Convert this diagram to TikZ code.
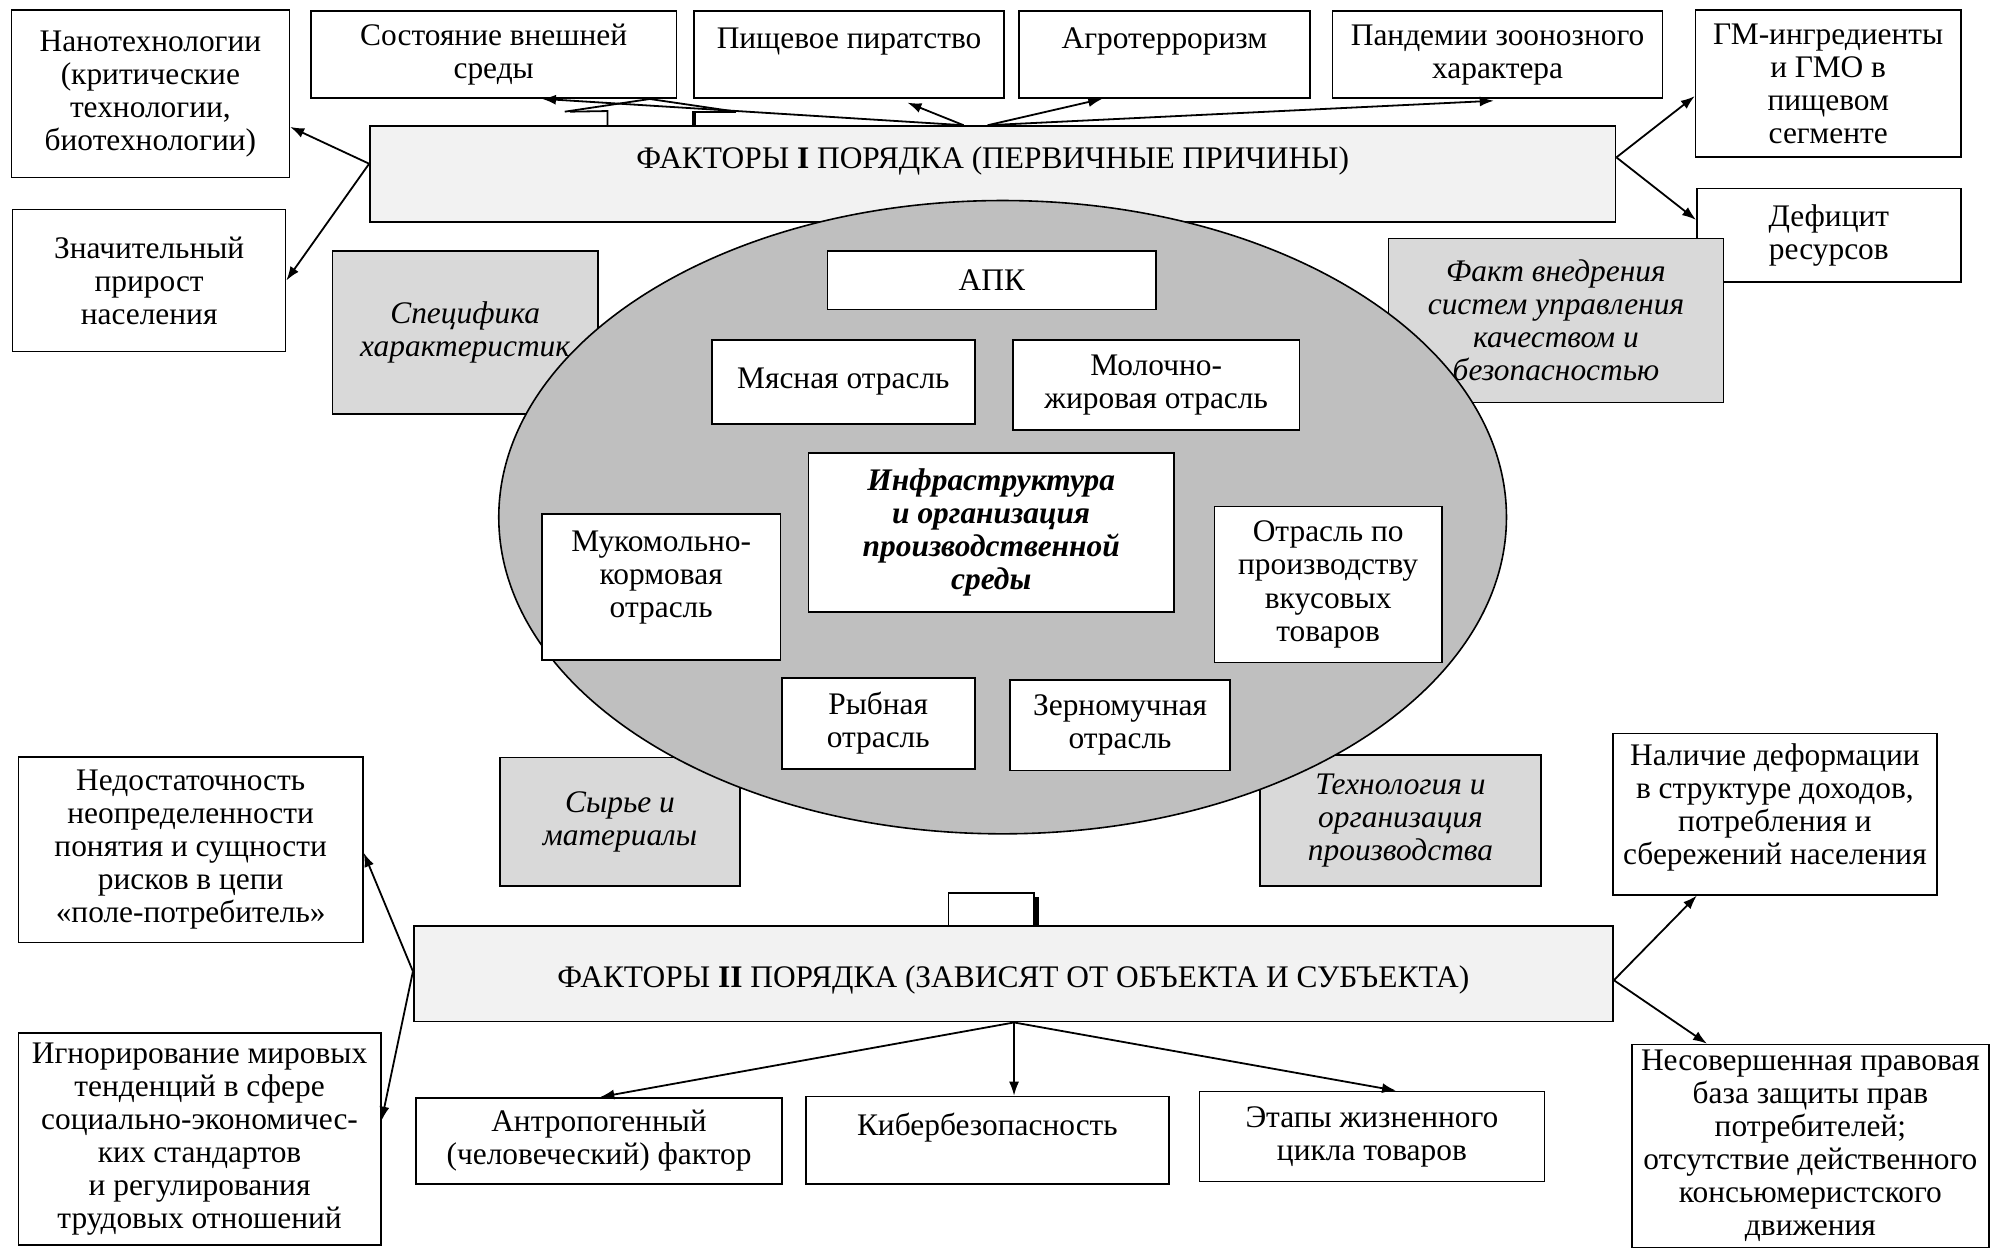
\documentclass[tikz,border=0pt]{standalone}
\usepackage{fontspec}
\setmainfont{Liberation Serif}
\usetikzlibrary{arrows.meta,shapes.geometric,calc}
\definecolor{boxgrey}{HTML}{D9D9D9}
\definecolor{factorgrey}{HTML}{F2F2F2}
\definecolor{ovalgrey}{HTML}{BFBFBF}

\begin{document}
\begin{tikzpicture}[x=0.6345pt,y=-0.6345pt,>={Latex[length=7pt,width=5pt]},
                    font=\fontsize{15.7}{16.5}\selectfont]
  \tikzset{sz/.style 2 args={minimum width=#1*0.6345pt,minimum height=#2*0.6345pt}}
  \tikzstyle{box}=[draw=black,fill=white,align=center,inner sep=1pt,line width=0.8pt]
  \tikzstyle{greybox}=[box,fill=boxgrey,font=\fontsize{15.7}{16.5}\selectfont\itshape]
  \tikzstyle{factor}=[box,fill=factorgrey]
  \tikzstyle{arr}=[->,line width=0.9pt]

  \useasboundingbox (0,0) rectangle (1568,983);

  \node[box,sz={208}{73.5}] (deficit) at (1441,185.25) {Дефицит\\ресурсов};

  \node[greybox,sz={209}{128}] (spec)  at (366.5,262)    {Специфика\\характеристик};
  \node[greybox,sz={264}{129}] (fakt)  at (1226,252.5)   {Факт внедрения\\систем управления\\качеством и\\безопасностью};
  \node[greybox,sz={189}{101}] (syrye) at (488.5,647.5)  {Сырье и\\материалы};
  \node[greybox,sz={221}{103}] (tehn)  at (1103.5,646.5) {Технология и\\организация\\производства};

  \node[factor,sz={981.5}{75.4}] (factorI) at (782.25,137)
    {ФАКТОРЫ \textbf{I} ПОРЯДКА (ПЕРВИЧНЫЕ ПРИЧИНЫ)\\\mbox{}};

  \node[ellipse,draw=black,fill=ovalgrey,line width=0.8pt,sz={794}{499}] (oval) at (790,407.5) {};

  \node[box,sz={259}{46}]  (apk)     at (781.5,221)   {АПК};
  \node[box,sz={207}{66}]  (myaso)   at (664.5,301)   {Мясная отрасль};
  \node[box,sz={226}{71}]  (moloko)  at (911,303.5)   {Молочно-\\жировая отрасль};
  \node[box,sz={288}{125},font=\fontsize{15.7}{16.5}\selectfont\bfseries\itshape] (infra) at (781,419.5)
    {Инфраструктура\\и организация\\производственной\\среды};
  \node[box,sz={188}{115}] (mukomol) at (521,462.5)   {Мукомольно-\\кормовая\\отрасль\\[-4pt]\mbox{}};
  \node[box,sz={179}{123}] (vkus)    at (1046.5,460.5) {Отрасль по\\производству\\вкусовых\\товаров};
  \node[box,sz={152}{72}]  (ryba)    at (692,570)     {Рыбная\\отрасль};
  \node[box,sz={173}{71}]  (zerno)   at (882.5,571.5) {Зерномучная\\отрасль};

  \node[box,sz={219}{132}] (nano)    at (118.5,74)    {Нанотехнологии\\(критические\\технологии,\\биотехнологии)};
  \node[box,sz={288}{68.5}] (sost)   at (389,43)      {Состояние внешней\\среды};
  \node[box,sz={244}{68.5}] (pirat)  at (669,43)      {Пищевое пиратство\\\mbox{}};
  \node[box,sz={229}{68.5}] (agro)   at (917.5,43)    {Агротерроризм\\\mbox{}};
  \node[box,sz={260}{68.5}] (pandem) at (1180,43)     {Пандемии зоонозного\\характера};
  \node[box,sz={209}{115.5}] (gmo)   at (1440.5,65.75) {ГМ-ингредиенты\\и ГМО в\\пищевом\\сегменте};
  \node[box,sz={215}{112}] (prirost) at (117.5,221)   {Значительный\\прирост\\населения};

  \node[factor,sz={945}{75.3}] (factorII) at (798.5,767.35)
    {\mbox{}\\ФАКТОРЫ \textbf{II} ПОРЯДКА (ЗАВИСЯТ ОТ ОБЪЕКТА И СУБЪЕКТА)};
  \node[box,sz={67}{26}] (stub) at (781,716.75) {};
  \draw[line width=2pt] ($(stub.north east)+(2,4)$) -- ($(stub.south east)+(2,0)$);

  \node[box,sz={271.5}{146}] (nedost) at (150.25,669.5)
    {Недостаточность\\неопределенности\\понятия и сущности\\рисков в цепи\\«поле-потребитель»};
  \node[box,sz={285.5}{167}] (ignor) at (157.25,897.5)
    {Игнорирование мировых\\тенденций в сфере\\социально-экономичес-\\ких стандартов\\и регулирования\\трудовых отношений};
  \node[box,sz={288}{68}] (anthr) at (472,899)    {Антропогенный\\(человеческий) фактор};
  \node[box,sz={286}{69}] (kiber) at (778,898.5)  {Кибербезопасность\\\mbox{}};
  \node[box,sz={272}{71}] (etapy) at (1081,895.5) {Этапы жизненного\\цикла товаров};
  \node[box,sz={255}{127}] (nalich) at (1398.5,641.5)
    {Наличие деформации\\в структуре доходов,\\потребления и\\сбережений населения\\[-6pt]\mbox{}};
  \node[box,sz={281}{160}] (nesov) at (1426.5,903)
    {Несовершенная правовая\\база защиты прав\\потребителей;\\отсутствие действенного\\консьюмеристского\\движения};

  \coordinate (fIL)   at ($(factorI.west)+(0,-8)$);
  \coordinate (fIR)   at ($(factorI.east)+(0,-13)$);
  \coordinate (fItA)  at ($(factorI.north)+(-23,0)$);
  \coordinate (fItB)  at ($(factorI.north)+(-4,0)$);
  \coordinate (fIIL)  at ($(factorII.west)+(0,-2)$);
  \coordinate (fIIR)  at ($(factorII.east)+(0,5)$);
  \coordinate (fIIB)  at ($(factorII.south)+(0.5,0)$);

  \draw[arr] (fIL) -- ($(nano.east)+(0,26)$);
  \draw[arr] (fIL) -- (prirost.east);
  \draw[arr] (fIR) -- ($(gmo.west)+(0,10)$);
  \draw[arr] (fIR) -- ($(deficit.west)+(0,-12)$);
  \draw[arr] (fItA) -- ($(sost.south)+(38,0)$);
  \draw[arr] (fItA) -- ($(pirat.south)+(46,3)$);
  \draw[arr] (fItB) -- ($(agro.south)+(-49,0)$);
  \draw[arr] (fItB) -- ($(pandem.south)+(-3,1.5)$);

  % obryvki strelok nad faktorami I
  \draw[line width=0.9pt] (478.6,99.3) -- (478.6,87.5) -- (449,88);
  \draw[line width=2pt] (547,99.3) -- (547,87.5);
  \draw[line width=0.9pt] (547,88) -- (580,88);
  \draw[line width=0.9pt] (445,88) -- (512,78) -- (580,88);

  \draw[arr] (fIIL) -- ($(nedost.east)+(0,2.5)$);
  \draw[arr] (fIIL) -- ($(ignor.east)+(0,-14.5)$);
  \draw[arr] (fIIR) -- ($(nalich.south)+(-61.5,0)$);
  \draw[arr] (fIIR) -- ($(nesov.north)+(-81.5,0)$);
  \draw[arr] (fIIB) -- ($(anthr.north)+(1,0)$);
  \draw[arr] (fIIB) -- ($(kiber.north)+(21,0)$);
  \draw[arr] (fIIB) -- ($(etapy.north)+(19,0)$);
\end{tikzpicture}
\end{document}
